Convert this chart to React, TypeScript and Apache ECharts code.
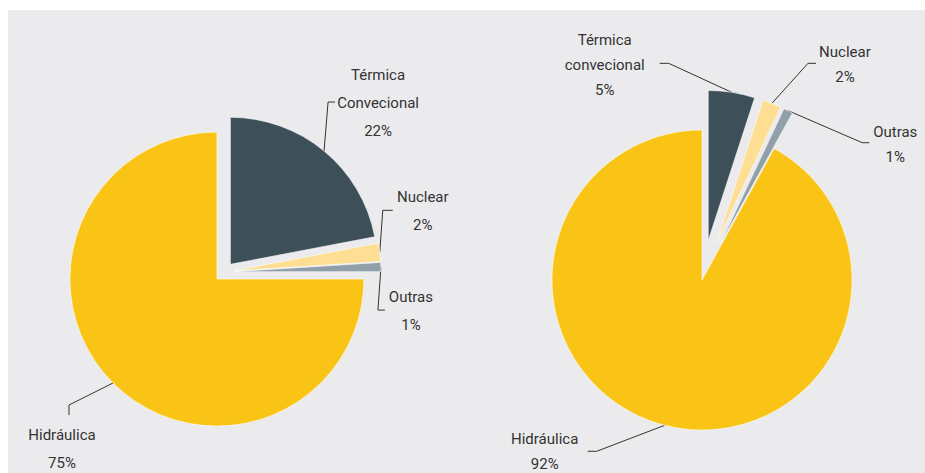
import React, { useEffect, useRef } from 'react';
import * as echarts from 'echarts';

// ---- data ----
const leftLabels = ['Térmica\nConvecional', 'Nuclear', 'Outras', 'Hidráulica'];
const rightLabels = ['Térmica\nconvecional', 'Nuclear', 'Outras', 'Hidráulica'];
const leftValues = [22, 2, 1, 75];
const rightValues = [5, 2, 1, 92];

// ---- style / layout ----
const colors = ['#3D4F59', '#FDDE92', '#909FA8', '#F9C416'];
const textColor = '#333333';
const fontFamily = "Roboto, 'Noto Sans', sans-serif";
// explosion distance of each slice (px)
const leftExplode = [10, 10, 10, 10];
const rightExplode = [40, 40, 40, 0];

type Guide = { elbow: number[]; end: number[]; text: number[] };
// leader-line shape relative to the library's label anchor on the slice edge
const leftGuides: Guide[] = [
  { elbow: [4, -49], end: [7, 0], text: [43, 1] },
  { elbow: [3, -42], end: [10, 0], text: [30, 1] },
  { elbow: [-3, 43], end: [7, 0], text: [26, 1] },
  { elbow: [-44, 22], end: [0, 10], text: [-7, 34] },
];
const rightGuides: Guide[] = [
  { elbow: [-63, -29], end: [-9, 0], text: [-55, 2] },
  { elbow: [36, -40], end: [8, 0], text: [29, 1] },
  { elbow: [74, 32], end: [7, 0], text: [26, 1.5] },
  { elbow: [-68, 26], end: [-9, 0], text: [-43, 0] },
];

function makePie(
  labels: string[],
  values: number[],
  explode: number[],
  guides: Guide[],
  center: number[],
  radius: number,
  lineHeight: number
) {
  const total = values.reduce((a, b) => a + b, 0);
  let cum = 0;
  const mids = values.map((v) => {
    const m = ((90 - (360 * (cum + v / 2)) / total) * Math.PI) / 180;
    cum += v;
    return m;
  });
  // one series per slice so every slice can be pulled out along its own bisector
  return values.map((_, i) => {
    const ox = Math.cos(mids[i]) * explode[i];
    const oy = -Math.sin(mids[i]) * explode[i];
    const g = guides[i];
    return {
      type: 'pie',
      center: [center[0] + ox, center[1] + oy],
      radius,
      startAngle: 90,
      clockwise: true,
      silent: true,
      avoidLabelOverlap: false,
      emphasis: { disabled: true },
      label: {
        show: true,
        position: 'outside',
        color: textColor,
        fontFamily,
        fontSize: 15,
        lineHeight,
        formatter: (p: any) => `${labels[p.dataIndex]}\n${p.value}%`,
      },
      labelLine: {
        show: true,
        length: 20,
        length2: 10,
        lineStyle: { color: '#333333', width: 1 },
      },
      labelLayout: (p: any) => {
        const pts = p.labelLinePoints;
        if (!pts || p.dataIndex !== i) return {};
        const a = [pts[0][0], pts[0][1]];
        const e = [a[0] + g.elbow[0], a[1] + g.elbow[1]];
        const end = [e[0] + g.end[0], e[1] + g.end[1]];
        return {
          x: end[0] + g.text[0],
          y: end[1] + g.text[1],
          align: 'center',
          verticalAlign: 'middle',
          labelLinePoints: [a, e, end],
        };
      },
      data: values.map((v, j) => ({
        name: labels[j].replace('\n', ' '),
        value: v,
        itemStyle:
          j === i
            ? { color: colors[j], borderColor: 'rgba(255,255,255,0.55)', borderWidth: 1 }
            : { color: 'rgba(0,0,0,0)', borderWidth: 0 },
        label: { show: j === i },
        labelLine: { show: j === i },
      })),
    };
  });
}

export default function App() {
  const ref = useRef<HTMLDivElement>(null);
  useEffect(() => {
    if (!ref.current) return;
    const chart = echarts.init(ref.current, undefined, { renderer: 'svg' });
    chart.setOption({
      animation: false,
      backgroundColor: '#EBEBED',
      series: [
        ...makePie(leftLabels, leftValues, leftExplode, leftGuides, [216, 262], 147, 28),
        ...makePie(rightLabels, rightValues, rightExplode, rightGuides, [694, 270], 150, 25),
      ],
    });
    return () => chart.dispose();
  }, []);
  return (
    <div
      ref={ref}
      style={{ position: 'absolute', left: 8, top: 10, width: 917, height: 463 }}
    />
  );
}
